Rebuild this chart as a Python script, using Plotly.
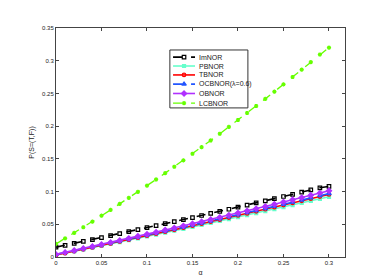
import plotly.graph_objects as go

alpha = [0.00, 0.01, 0.02, 0.03, 0.04, 0.05, 0.06, 0.07, 0.08, 0.09, 0.10,
         0.11, 0.12, 0.13, 0.14, 0.15, 0.16, 0.17, 0.18, 0.19, 0.20,
         0.21, 0.22, 0.23, 0.24, 0.25, 0.26, 0.27, 0.28, 0.29, 0.30]

imnor = [0.0150, 0.0179, 0.0208, 0.0238, 0.0267, 0.0297, 0.0327, 0.0357, 0.0387, 0.0417, 0.0448,
         0.0479, 0.0510, 0.0541, 0.0572, 0.0603, 0.0634, 0.0666, 0.0698, 0.0730, 0.0762,
         0.0794, 0.0827, 0.0859, 0.0892, 0.0925, 0.0958, 0.0991, 0.1025, 0.1058, 0.1078]
pbnor = [0.0030, 0.0058, 0.0086, 0.0114, 0.0142, 0.0170, 0.0199, 0.0227, 0.0256, 0.0285, 0.0314,
         0.0343, 0.0372, 0.0401, 0.0431, 0.0460, 0.0490, 0.0520, 0.0550, 0.0580, 0.0610,
         0.0640, 0.0671, 0.0702, 0.0732, 0.0763, 0.0794, 0.0825, 0.0857, 0.0888, 0.0920]
tbnor = [0.0030, 0.0059, 0.0088, 0.0117, 0.0146, 0.0176, 0.0205, 0.0235, 0.0265, 0.0295, 0.0325,
         0.0355, 0.0386, 0.0416, 0.0447, 0.0478, 0.0509, 0.0540, 0.0571, 0.0603, 0.0634,
         0.0666, 0.0698, 0.0730, 0.0762, 0.0794, 0.0826, 0.0859, 0.0891, 0.0924, 0.0956]
ocbnor = [0.0040, 0.0069, 0.0097, 0.0127, 0.0155, 0.0185, 0.0215, 0.0244, 0.0274, 0.0303, 0.0334,
          0.0365, 0.0395, 0.0426, 0.0456, 0.0487, 0.0518, 0.0549, 0.0581, 0.0612, 0.0644,
          0.0676, 0.0708, 0.0740, 0.0772, 0.0805, 0.0838, 0.0870, 0.0904, 0.0937, 0.0970]
obnor = [0.0040, 0.0070, 0.0100, 0.0131, 0.0161, 0.0192, 0.0223, 0.0254, 0.0285, 0.0316, 0.0348,
         0.0380, 0.0412, 0.0444, 0.0476, 0.0508, 0.0540, 0.0573, 0.0606, 0.0639, 0.0672,
         0.0705, 0.0739, 0.0772, 0.0806, 0.0840, 0.0874, 0.0908, 0.0943, 0.0977, 0.1012]
lcbnor = [0.0200, 0.0284, 0.0369, 0.0455, 0.0542, 0.0631, 0.0720, 0.0811, 0.0903, 0.0996, 0.1090,
          0.1185, 0.1282, 0.1379, 0.1478, 0.1578, 0.1679, 0.1781, 0.1884, 0.1988, 0.2094,
          0.2201, 0.2308, 0.2417, 0.2528, 0.2639, 0.2751, 0.2865, 0.2979, 0.3095, 0.3200]

names = ["ImNOR", "PBNOR", "TBNOR", "OCBNOR(\u03bb=0.6)", "OBNOR", "LCBNOR"]
series = [imnor, pbnor, tbnor, ocbnor, obnor, lcbnor]
colors = ["#000000", "#66ffcc", "#ff0000", "#2255ff", "#b030ff", "#66ff00"]
dashes = ["dash", "solid", "solid", "dash", "solid", "dash"]
symbols = ["square-open", "square", "circle-open", "triangle-up", "diamond", "asterisk-open"]
msizes = [3.5, 3, 3.5, 4, 4, 3.5]
widths = [1.6, 1.6, 1.6, 1.6, 1.6, 1.3]

x_ticks = [0, 0.05, 0.1, 0.15, 0.2, 0.25, 0.3]
x_tick_text = ["0", "0.05", "0.1", "0.15", "0.2", "0.25", "0.3"]
y_ticks = [0, 0.05, 0.1, 0.15, 0.2, 0.25, 0.3, 0.35]
y_tick_text = ["0", "0.05", "0.1", "0.15", "0.2", "0.25", "0.3", "0.35"]

fig = go.Figure()
for name, ys, c, d, s, ms, w in zip(names, series, colors, dashes, symbols, msizes, widths):
    fig.add_trace(go.Scatter(
        x=alpha, y=ys, name=name, mode="lines+markers",
        line=dict(color=c, width=w, dash=d),
        marker=dict(symbol=s, size=ms, color=c, line=dict(color=c, width=1.2)),
        showlegend=False,
    ))

# custom compact legend (MATLAB-style box)
leg_x0, leg_x1 = 0.394, 0.664
leg_y0, leg_y1 = 0.651, 0.904
row_y = [0.873, 0.834, 0.795, 0.755, 0.714, 0.672]
line_x0, line_x1, mark_x, text_x = 0.405, 0.481, 0.443, 0.488

fig.add_shape(type="rect", xref="paper", yref="paper",
              x0=leg_x0, x1=leg_x1, y0=leg_y0, y1=leg_y1,
              line=dict(color="#333333", width=1), fillcolor="rgba(0,0,0,0)", layer="above")
for i, (name, c, d, s, ms, w) in enumerate(zip(names, colors, dashes, symbols, msizes, widths)):
    fig.add_trace(go.Scatter(
        x=[line_x0, mark_x, line_x1], y=[row_y[i]] * 3, xaxis="x2", yaxis="y2",
        mode="lines", line=dict(color=c, width=w, dash=d),
        showlegend=False, hoverinfo="skip"))
    fig.add_trace(go.Scatter(
        x=[mark_x], y=[row_y[i]], xaxis="x2", yaxis="y2", mode="markers",
        marker=dict(symbol=s, size=ms, color=c, line=dict(color=c, width=1.2)),
        showlegend=False, hoverinfo="skip"))
    fig.add_annotation(x=text_x, y=row_y[i], xref="paper", yref="paper",
                       text=name, showarrow=False, xanchor="left", yanchor="middle",
                       font=dict(size=7, color="#222222"))

axis_common = dict(showgrid=False, zeroline=False, showline=True, linecolor="#444444",
                   linewidth=1, mirror="ticks", ticks="inside", ticklen=3,
                   tickcolor="#444444", tickfont=dict(size=6, color="#222222"),
                   automargin=False)

fig.update_layout(
    width=374, height=280,
    margin=dict(l=48, r=37, t=20, b=31),
    paper_bgcolor="white", plot_bgcolor="white",
    font=dict(family="Liberation Sans, Arial, sans-serif", color="#222222"),
    xaxis=dict(range=[0, 0.3176], tickvals=x_ticks, ticktext=x_tick_text,
               title=dict(text="\u03b1", font=dict(size=7), standoff=4), **axis_common),
    yaxis=dict(range=[0, 0.35], tickvals=y_ticks, ticktext=y_tick_text,
               title=dict(text="P(S=(T,F))", font=dict(size=7), standoff=6), **axis_common),
    xaxis2=dict(overlaying="x", range=[0, 1], visible=False),
    yaxis2=dict(overlaying="y", range=[0, 1], visible=False),
    showlegend=False,
)

fig.write_html("out.html", config={"displayModeBar": False})
